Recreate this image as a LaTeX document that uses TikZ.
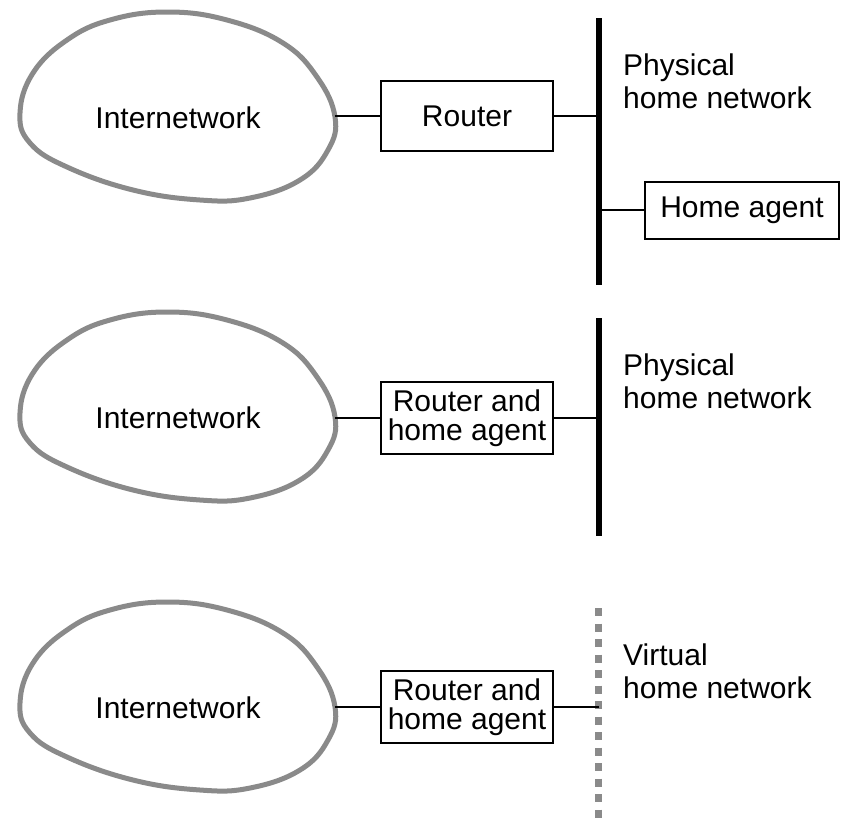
\documentclass[tikz,border=0pt]{standalone}
\usepackage{fontspec}
\setmainfont{Liberation Sans}
\definecolor{netgray}{gray}{0.54}

\begin{document}
\begin{tikzpicture}[x=1pt, y=-1pt,
  blob/.style={draw=netgray, line width=5pt},
  nettext/.style={font=\fontsize{30}{33}\selectfont, anchor=base, inner sep=0pt},
  box/.style={draw, line width=2pt, inner sep=0pt, minimum width=172pt, font=\fontsize{30}{28.5}\selectfont, align=center},
  link/.style={line width=2pt},
  bus/.style={line width=6pt},
  vbus/.style={draw=netgray, line width=6.5pt, dash pattern=on 8pt off 7.5pt},
  lbl/.style={font=\fontsize{30}{33}\selectfont, anchor=base west, inner sep=0pt, align=left}]
\useasboundingbox (0,0) rectangle (845,820);

% the three internetwork clouds
\foreach \n/\y in {1/110, 2/410, 3/700} {
  \draw[blob, shift={(177,\y)}] plot[smooth cycle, tension=0.7] coordinates {
    (-157,3) (-144,-37) (-110,-70) (-67,-90) (-10,-98) (50,-90) (106,-67) (140,-33)
    (158,7) (151,40) (123,70) (73,88) (23,90) (-44,80) (-110,57) (-147,33)};
  \node[nettext] (net\n) at (178,\y+18) {Internetwork};
}
\coordinate (edge1) at (335,116);
\coordinate (edge2) at (335,418);
\coordinate (edge3) at (335,707);

% top: router and separate home agent
\node[box, minimum height=70pt] (rt1) at (467,116) {Router};
\coordinate (bus1top) at (599,18);
\coordinate (bus1bot) at (599,285);
\draw[bus] (bus1top) -- (bus1bot);
\draw[link] (edge1) -- (rt1.west);
\draw[link] (rt1.east) -- (rt1.east -| bus1top);
\node[box, minimum width=194pt, minimum height=57pt] (ha1) at (742,210) {Home agent};
\draw[link] (ha1.west -| bus1top) -- (ha1.west);
\node[lbl] (phys1) at (623,108) {Physical\\home network};

% middle: router is home agent
\node[box, minimum height=72pt] (rt2) at (467,418) {Router and\\home agent};
\coordinate (bus2top) at (599,318);
\coordinate (bus2bot) at (599,536);
\draw[bus] (bus2top) -- (bus2bot);
\draw[link] (edge2) -- (rt2.west);
\draw[link] (rt2.east) -- (rt2.east -| bus2top);
\node[lbl] (phys2) at (623,408) {Physical\\home network};

% bottom: virtual network
\node[box, minimum height=72pt] (rt3) at (467,707) {Router and\\home agent};
\coordinate (bus3top) at (598.5,608);
\coordinate (bus3bot) at (598.5,820);
\draw[vbus] (bus3top) -- (bus3bot);
\draw[link] (edge3) -- (rt3.west);
\draw[link] (rt3.east) -- (rt3.east -| bus3top);
\node[lbl] (virt3) at (623,698) {Virtual\\home network};
\end{tikzpicture}
\end{document}
